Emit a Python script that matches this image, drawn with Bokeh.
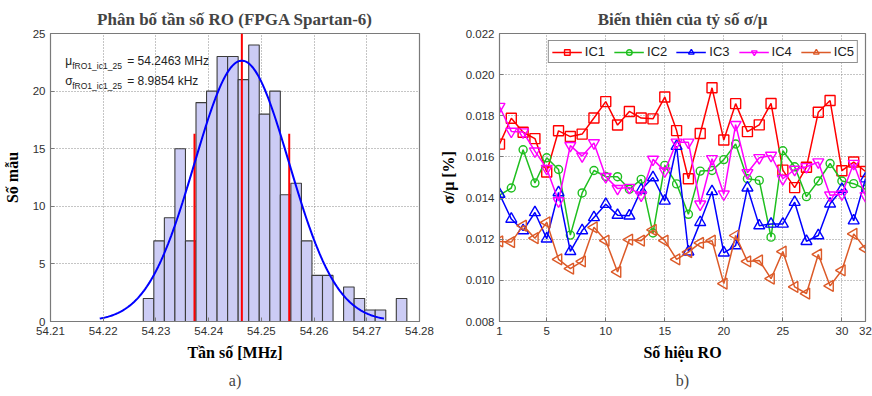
import numpy as np
from bokeh.plotting import figure
from bokeh.layouts import row
from bokeh.models import (Range1d, FixedTicker, Label, Legend, LegendItem, Title,
                          NumeralTickFormatter)
from bokeh.embed import file_html
from bokeh.resources import INLINE

# ---------------- Panel a) data ----------------
hist_counts = [2, 7, 9, 15, 7, 19, 20, 23, 23, 21, 24, 18, 20, 11, 12, 7, 4, 4, 0, 3, 2, 1, 1, 0, 2]
bin_start = 54.2276
bin_width = 0.002
mu_mhz = 54.2463
sigma_mhz = 0.0089854
sigma_line_top = 16.3
hist_xticks = [54.21, 54.22, 54.23, 54.24, 54.25, 54.26, 54.27, 54.28]
hist_yticks = [0, 5, 10, 15, 20, 25]

# ---------------- Panel b) data ----------------
ro_index = list(range(1, 33))
ic1 = [0.01662, 0.01788, 0.01720, 0.01689, 0.01527, 0.01727, 0.01699, 0.01711, 0.01789, 0.01869,
       0.01755, 0.01821, 0.01789, 0.01785, 0.01891, 0.01728, 0.01494, 0.01714, 0.01936, 0.01682,
       0.01859, 0.01723, 0.01756, 0.01860, 0.01536, 0.01451, 0.01550, 0.01817, 0.01874, 0.01533,
       0.01575, 0.01529]
ic2 = [0.01414, 0.01449, 0.01635, 0.01473, 0.01596, 0.01539, 0.01220, 0.01425, 0.01534, 0.01505,
       0.01504, 0.01443, 0.01491, 0.01230, 0.01559, 0.01469, 0.01321, 0.01531, 0.01534, 0.01587,
       0.01663, 0.01494, 0.01486, 0.01210, 0.01630, 0.01552, 0.01407, 0.01483, 0.01568, 0.01483,
       0.01470, 0.01443]
ic3 = [0.01419, 0.01298, 0.01242, 0.01330, 0.01202, 0.01427, 0.01141, 0.01242, 0.01306, 0.01370,
       0.01317, 0.01314, 0.01440, 0.01500, 0.01386, 0.01652, 0.01139, 0.01282, 0.01432, 0.01134,
       0.01169, 0.01450, 0.01266, 0.01274, 0.01274, 0.01380, 0.01190, 0.01218, 0.01372, 0.01443,
       0.01290, 0.01494]
ic4 = [0.01845, 0.01724, 0.01721, 0.01628, 0.01543, 0.01386, 0.01655, 0.01604, 0.01668, 0.01504,
       0.01446, 0.01451, 0.01414, 0.01588, 0.01531, 0.01671, 0.01671, 0.01370, 0.01591, 0.01419,
       0.01757, 0.01523, 0.01596, 0.01607, 0.01494, 0.01539, 0.01552, 0.01575, 0.01414, 0.01419,
       0.01568, 0.01411]
ic5 = [0.01189, 0.01186, 0.01266, 0.01205, 0.01282, 0.01102, 0.01057, 0.01092, 0.01258, 0.01193,
       0.01041, 0.01198, 0.01193, 0.01245, 0.01193, 0.01102, 0.01137, 0.01182, 0.01193, 0.00984,
       0.01218, 0.01092, 0.01097, 0.01008, 0.01140, 0.00968, 0.00936, 0.01126, 0.00973, 0.01049,
       0.01226, 0.01153]
series_names = ["IC1", "IC2", "IC3", "IC4", "IC5"]
ro_xticks = [1, 5, 10, 15, 20, 25, 30, 32]
ratio_yticks = [0.008, 0.010, 0.012, 0.014, 0.016, 0.018, 0.020, 0.022]

SERIF = "Liberation Serif"
SANS = "Liberation Sans"
AXCOL = "#7a7a7a"
TICKCOL = "#303030"


def style(p, xticks, yticks):
    p.outline_line_color = AXCOL
    p.outline_line_width = 1.2
    for ax in (p.xaxis[0], p.yaxis[0]):
        ax.axis_line_color = AXCOL
        ax.major_tick_line_color = AXCOL
        ax.major_tick_in = 4
        ax.major_tick_out = 0
        ax.minor_tick_line_color = None
        ax.major_label_text_font = SANS
        ax.major_label_text_font_size = "11.5px"
        ax.major_label_text_color = TICKCOL
        ax.axis_label_text_font = SERIF
        ax.axis_label_text_font_style = "bold"
        ax.axis_label_text_font_size = "16px"
        ax.axis_label_text_color = "black"
    p.xaxis[0].ticker = FixedTicker(ticks=xticks)
    p.yaxis[0].ticker = FixedTicker(ticks=yticks)
    for g in (p.xgrid[0], p.ygrid[0]):
        g.grid_line_color = "#8a8a8a"
        g.grid_line_dash = "1 2"
        g.grid_line_width = 1
    p.xgrid[0].ticker = FixedTicker(ticks=xticks)
    p.ygrid[0].ticker = FixedTicker(ticks=yticks)
    p.title.align = "center"
    p.title.text_font = SERIF
    p.title.text_font_style = "bold"
    p.title.text_font_size = "17px"
    p.title.standoff = 10
    p.background_fill_color = "white"
    p.border_fill_color = "white"


# ---------------- Panel a) ----------------
p1 = figure(width=436, height=396, x_range=Range1d(54.21, 54.28), y_range=Range1d(0, 25),
            output_backend="svg", toolbar_location=None,
            title="Phân bố tần số RO (FPGA Spartan-6)",
            min_border_left=50, min_border_right=17, min_border_top=32, min_border_bottom=75)
style(p1, hist_xticks, hist_yticks)
p1.xaxis[0].formatter = NumeralTickFormatter(format="0.00")
p1.xaxis[0].axis_label = "Tần số [MHz]"
p1.yaxis[0].axis_label = "Số mẫu"
p1.xaxis[0].axis_label_standoff = 6
p1.yaxis[0].axis_label_standoff = 9

counts = np.array(hist_counts, dtype=float)
lefts = bin_start + bin_width * np.arange(len(counts))
keep = counts > 0
p1.quad(left=lefts[keep], right=(lefts + bin_width)[keep], bottom=0, top=counts[keep],
        fill_color="#ccccf5", line_color="#3c3c3c", line_width=1.1)

# mean and mean +/- sigma lines
p1.segment(x0=[mu_mhz - sigma_mhz, mu_mhz, mu_mhz + sigma_mhz], y0=[0, 0, 0],
           x1=[mu_mhz - sigma_mhz, mu_mhz, mu_mhz + sigma_mhz],
           y1=[sigma_line_top, 25, sigma_line_top], line_color="#ff0000", line_width=2)

# fitted normal curve (histfit): N * bin width * pdf over mean +/- 3 sigma
xs = np.linspace(mu_mhz - 3 * sigma_mhz, mu_mhz + 3 * sigma_mhz, 200)
ys = counts.sum() * bin_width / (sigma_mhz * np.sqrt(2 * np.pi)) * np.exp(-0.5 * ((xs - mu_mhz) / sigma_mhz) ** 2)
p1.line(xs, ys, line_color="#0000ff", line_width=2)

ann_x = 54.2128
for yv, sym, txt in [(22.6, "μ", "= 54.2463 MHz"), (20.85, "σ", "= 8.9854 kHz")]:
    p1.add_layout(Label(x=ann_x, y=yv, text=sym, text_font=SANS, text_font_size="12px",
                        text_color="#222222", text_baseline="middle"))
    p1.add_layout(Label(x=ann_x, y=yv, x_offset=7, y_offset=-5, text="fRO1_ic1_25", text_font=SANS,
                        text_font_size="8.5px", text_color="#222222", text_baseline="middle"))
    p1.add_layout(Label(x=ann_x, y=yv, x_offset=62, text=txt, text_font=SANS, text_font_size="12px",
                        text_color="#222222", text_baseline="middle"))

p1.add_layout(Title(text="a)", align="center", text_font=SERIF, text_font_style="normal",
                    text_font_size="16px", standoff=13), "below")

# ---------------- Panel b) ----------------
p2 = figure(width=436, height=396, x_range=Range1d(1, 32), y_range=Range1d(0.008, 0.022),
            output_backend="svg", toolbar_location=None,
            title="Biến thiên của tỷ số σ/μ",
            min_border_left=58, min_border_right=7, min_border_top=33, min_border_bottom=73)
style(p2, ro_xticks, ratio_yticks)
p2.yaxis[0].formatter = NumeralTickFormatter(format="0.000")
p2.xaxis[0].axis_label = "Số hiệu RO"
p2.yaxis[0].axis_label = "σ/μ [%]"
p2.xaxis[0].axis_label_standoff = 6
p2.yaxis[0].axis_label_standoff = 6

colors = ["#ff0000", "#1fbf1f", "#0000ff", "#ff00ff", "#dc5a28"]
markers = ["square", "circle", "triangle", "inverted_triangle", "triangle"]
sizes = [10, 8, 11, 11, 11]
angles = [0, 0, 0, 0, np.pi / 2]
items = []
for name, vals, c, m, s, a in zip(series_names, [ic1, ic2, ic3, ic4, ic5], colors, markers, sizes, angles):
    ln = p2.line(ro_index, vals, line_color=c, line_width=1.5)
    sc = p2.scatter(ro_index, vals, marker=m, size=s, angle=a, line_color=c, fill_color=None,
                    line_width=1.4)
    items.append(LegendItem(label=name, renderers=[ln, sc]))

legend = Legend(items=items, orientation="horizontal", location="top_right", margin=7,
                border_line_color="#222222", border_line_width=1, background_fill_color="white",
                label_text_font=SANS, label_text_font_size="13px", label_text_color="#202020",
                glyph_width=30, glyph_height=14, label_height=14, label_standoff=3,
                spacing=9, padding=3)
p2.add_layout(legend)

p2.add_layout(Title(text="b)", align="center", text_font=SERIF, text_font_style="normal",
                    text_font_size="16px", standoff=13), "below")

layout = row(p1, p2)
open("out.html", "w").write(file_html(layout, INLINE))
